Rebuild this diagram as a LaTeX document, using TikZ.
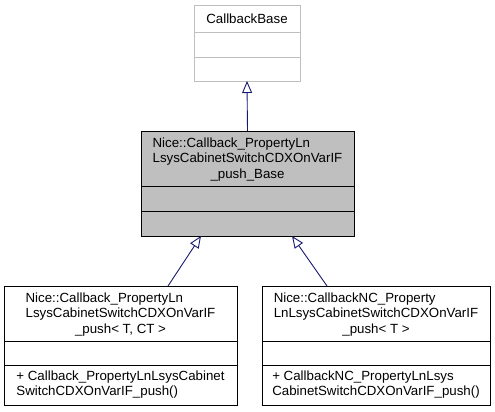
\documentclass[tikz,border=0pt]{standalone}
\usepackage{fontspec}
\setmainfont{Liberation Sans}
\usepackage{tikz}
\usetikzlibrary{positioning,arrows.meta}
\definecolor{edgeblue}{HTML}{191970}
\definecolor{boxgray}{HTML}{BFBFBF}
\newcommand{\TwoL}[2]{\begin{tabular}[b]{@{}l@{}}#1\\#2\end{tabular}}

\begin{document}
\begin{tikzpicture}[x=1pt, y=1pt,
  every node/.style={inner sep=0pt, outer sep=0pt, align=center,
    font=\fontsize{13.3}{15.5}\selectfont},
  cbbox/.style={draw=boxgray, fill=white, line width=0.9pt, minimum width=106pt},
  basebox/.style={draw=black, fill=boxgray, line width=0.9pt, minimum width=213pt},
  kidbox/.style={draw=black, fill=white, line width=0.9pt},
  inherit/.style={edgeblue, line width=0.9pt, -{Triangle[open, length=12pt, width=10pt]}}]

  \useasboundingbox (0,0) rectangle (495,412);

  %% CallbackBase
  \node[cbbox, minimum height=27pt] (cb) at (247,393.5) {CallbackBase};
  \node[cbbox, minimum height=25pt, below=0pt of cb] (cbattr) {};
  \node[cbbox, minimum height=24pt, below=0pt of cbattr] (cbops) {};

  %% push_Base
  \node[basebox, minimum height=55pt] (base) at (247.5,253.5)
    {\TwoL{Nice::Callback\_PropertyLn}{LsysCabinetSwitchCDXOnVarIF}\\\_push\_Base};
  \node[basebox, minimum height=25pt, below=0pt of base] (baseattr) {};
  \node[basebox, minimum height=25pt, below=0pt of baseattr] (baseops) {};

  %% push< T, CT >
  \node[kidbox, minimum width=233pt, minimum height=55pt] (push) at (120.5,98.5)
    {\TwoL{Nice::Callback\_PropertyLn}{LsysCabinetSwitchCDXOnVarIF}\\\_push< T, CT >};
  \node[kidbox, minimum width=233pt, minimum height=24pt, below=0pt of push] (pushattr) {};
  \node[kidbox, minimum width=233pt, minimum height=40pt, below=0pt of pushattr] (pushops)
    {\begin{tabular}{@{}l@{}}+ Callback\_PropertyLnLsysCabinet\\SwitchCDXOnVarIF\_push()\end{tabular}};

  %% NC push< T >
  \node[kidbox, minimum width=228pt, minimum height=55pt] (ncpush) at (376,98.5)
    {\TwoL{Nice::CallbackNC\_Property}{LnLsysCabinetSwitchCDXOnVarIF}\\\_push< T >};
  \node[kidbox, minimum width=228pt, minimum height=24pt, below=0pt of ncpush] (ncpushattr) {};
  \node[kidbox, minimum width=228pt, minimum height=40pt, below=0pt of ncpushattr] (ncpushops)
    {\begin{tabular}{@{}l@{}}+ CallbackNC\_PropertyLnLsys\\CabinetSwitchCDXOnVarIF\_push()\end{tabular}};

  \draw[inherit] (base.north) -- (cbops.south); % base->CallbackBase
  \draw[inherit] ([xshift=47.5pt]push.north) -- ([xshift=-46.5pt]baseops.south); % push->base
  \draw[inherit] ([xshift=-49pt]ncpush.north) -- ([xshift=44.5pt]baseops.south); % ncpush->base
\end{tikzpicture}
\end{document}
